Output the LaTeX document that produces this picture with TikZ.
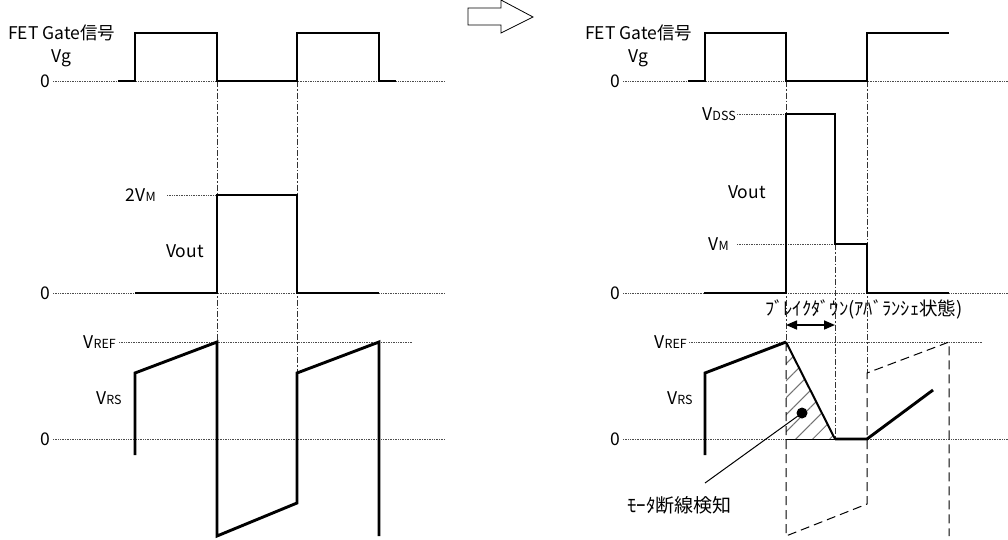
\documentclass[tikz,border=0pt]{standalone}
\usepackage{fontspec}
\setmainfont{Noto Sans CJK JP}
\usetikzlibrary{positioning,arrows.meta,patterns.meta}

\newcommand{\lsub}[1]{{\fontsize{12.5}{12.5}\selectfont #1}}

\tikzset{
	wave/.style={line width=2.9pt, line join=miter},
	level/.style={densely dotted, line width=0.7pt, black!70},
	guide/.style={dash pattern=on 6pt off 2pt on 1.5pt off 2pt, line width=0.7pt, black!80},
	ghost/.style={dash pattern=on 9pt off 5pt, line width=1pt},
	lbl/.style={font=\fontsize{17.5}{17.5}\selectfont, inner sep=0pt},
}

\begin{document}
\begin{tikzpicture}[x=1pt,y=-1pt]
		\useasboundingbox (0,0) rectangle (1008,539);
		
		% transition arrow
		\draw[line width=0.8pt] (468,8)--(501,8)--(501,0)--(533,17)--(501,33)--(501,25)--(468,25)--cycle;
		
		% ---------- left: normal ----------
		\node[lbl, anchor=west] (gate) at (8,33) {FET Gate信号};
		\node[lbl, below=8pt of gate] (vg) {Vg};
		\node[lbl, anchor=east] (z1) at (50,81) {0};
		\node[lbl, anchor=east] (m2) at (156,195) {2V\lsub{M}};
		\node[lbl, anchor=west] (vout) at (166,251) {Vout};
		\node[lbl, anchor=east] (z2) at (50,293) {0};
		\node[lbl, anchor=east] (ref) at (116,342) {V\lsub{REF}};
		\node[lbl, anchor=west] (vrs) at (96,398) {V\lsub{RS}};
		\node[lbl, anchor=east] (z3) at (50,439) {0};
		
		\draw[level] (z1.east)++(3,0)--(445,81);
		\draw[level] (z2.east)++(3,0)--(445,293);
		\draw[level] (z3.east)++(3,0)--(445,439);
		\draw[level] (167,195)--(217,195);
		\draw[level] (ref.east)++(3,0)--(412,342);
		
		\draw[guide] (217,81)--(217,342);
		\draw[guide] (297,81)--(297,373);
		
		\draw[wave] (118,81)--(135,81)--(135,33)--(217,33)--(217,81)--(297,81)--(297,33)--(379,33)--(379,81)--(396,81);
		\draw[wave] (135,293)--(217,293)--(217,195)--(297,195)--(297,293)--(379,293);
		\draw[wave] (135,455)--(135,373)--(217,342)--(217,536)--(297,503)--(297,373)--(379,342)--(379,536);
		
		% ---------- right: open load ----------
		\node[lbl, anchor=west] (gateb) at (585,33) {FET Gate信号};
		\node[lbl, below=8pt of gateb] (vgb) {Vg};
		\node[lbl, anchor=east] (z1b) at (620,81) {0};
		\node[lbl, anchor=east] (dss) at (736,114) {V\lsub{DSS}};
		\node[lbl, anchor=west] (voutb) at (728,192) {Vout};
		\node[lbl, anchor=east] (vm) at (729,244) {V\lsub{M}};
		\node[lbl, anchor=east] (z2b) at (620,293) {0};
		\node[lbl, anchor=east] (refb) at (687,342) {V\lsub{REF}};
		\node[lbl, anchor=west] (vrsb) at (667,398) {V\lsub{RS}};
		\node[lbl, anchor=east] (z3b) at (620,439) {0};
		\node[lbl, font=\fontsize{18.5}{18.5}\selectfont, anchor=west] (bd) at (765,309) {ﾌﾞﾚｲｸﾀﾞｳﾝ(ｱﾊﾞﾗﾝｼｪ状態)};
		\node[lbl, font=\fontsize{19}{19}\selectfont, anchor=west] (det) at (627,505) {ﾓｰﾀ断線検知};
		
		\draw[level] (z1b.east)++(3,0)--(1008,81);
		\draw[level] (z2b.east)++(3,0)--(1008,293);
		\draw[level] (z3b.east)++(3,0)--(1008,439);
		\draw[level] (dss.east)++(1,0)--(786,114);
		\draw[level] (vm.east)++(8,0)--(835,244);
		\draw[level] (refb.east)++(2,0)--(982,342);
		
		% hatched area
		\fill[pattern={Lines[angle=45,distance=12pt,line width=1pt]}, pattern color=black!55] (786,342)--(835,439)--(786,439)--cycle;
		\draw[line width=0.8pt] (786,439)--(835,439);
		
		\draw[guide] (786,81)--(786,342);
		\draw[guide] (835,244)--(835,439);
		\draw[guide] (867,81)--(867,373);
		\draw[ghost] (786,342)--(786,536)--(867,504)--(867,373)--(949,342)--(949,536);
		
		\draw[wave] (688,81)--(705,81)--(705,33)--(786,33)--(786,81)--(867,81)--(867,33)--(949,33);
		\draw[wave] (704,293)--(786,293)--(786,114)--(835,114)--(835,244)--(867,244)--(867,293)--(949,293);
		\draw[wave] (705,455)--(705,373)--(786,342);
		\draw[line width=2pt] (786,342)--(835,439);
		\draw[wave] (835,439)--(867,439)--(933,390);
		
		\coordinate (bdl) at (786,325);
		\coordinate (bdr) at (835,325);
		\draw[{Triangle[length=11pt,width=9pt]}-{Triangle[length=11pt,width=9pt]}, line width=1.6pt] (bdl)--(bdr);
		
		\fill (802,413) circle (5.5pt) coordinate (dot);
		\coordinate (lead) at (705,483);
		\draw[line width=1pt] (dot)--(lead);
	\end{tikzpicture}
\end{document}
